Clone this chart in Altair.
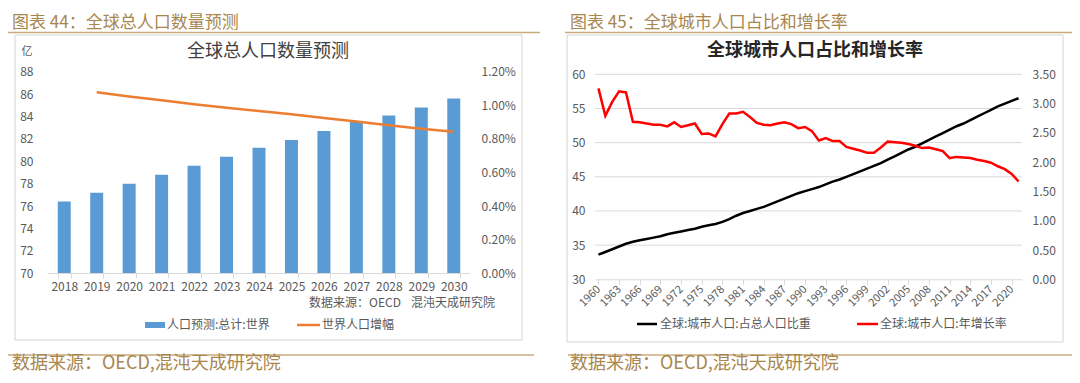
import altair as alt
import pandas as pd

FONT = "Noto Sans CJK SC"
GOLD = "#a8864e"
GOLD_LINE = "#c9ab7c"
GRAY = "#595959"
LIGHT = "#d9d9d9"

# ---------------- data ----------------
pop_years = [str(y) for y in range(2018, 2031)]
pop_values = [76.4, 77.2, 78.0, 78.8, 79.6, 80.4, 81.2, 81.9, 82.7, 83.5, 84.1, 84.8, 85.6]

growth_years = [str(y) for y in range(2019, 2031)]
growth_values = [0.01077, 0.01053, 0.0103, 0.01006, 0.00986, 0.00966, 0.00947,
                 0.00925, 0.00904, 0.00881, 0.00861, 0.00843]

urban_years = list(range(1960, 2022))
urban_share = [33.6, 34.0, 34.4, 34.8, 35.2, 35.5, 35.7, 35.9, 36.1, 36.3,
               36.6, 36.8, 37.0, 37.2, 37.4, 37.7, 37.9, 38.1, 38.4, 38.8,
               39.3, 39.7, 40.0, 40.3, 40.6, 41.0, 41.4, 41.8, 42.2, 42.6,
               42.9, 43.2, 43.5, 43.9, 44.3, 44.6, 45.0, 45.4, 45.8, 46.2,
               46.6, 47.0, 47.5, 48.0, 48.5, 49.0, 49.4, 49.9, 50.4, 50.9,
               51.4, 51.9, 52.4, 52.8, 53.3, 53.8, 54.3, 54.8, 55.3, 55.7,
               56.1, 56.5]
urban_growth = [3.26, 2.79, 3.03, 3.21, 3.19, 2.69, 2.68, 2.66, 2.64, 2.64,
                2.61, 2.68, 2.60, 2.63, 2.66, 2.48, 2.49, 2.44, 2.65, 2.83,
                2.83, 2.86, 2.77, 2.67, 2.64, 2.63, 2.66, 2.68, 2.65, 2.58,
                2.60, 2.53, 2.37, 2.41, 2.36, 2.36, 2.26, 2.23, 2.20, 2.16,
                2.16, 2.25, 2.35, 2.34, 2.33, 2.31, 2.28, 2.24, 2.25, 2.22,
                2.19, 2.07, 2.09, 2.08, 2.07, 2.04, 2.02, 1.99, 1.93, 1.88,
                1.80, 1.67]

pop_ticks = list(range(70, 89, 2))
pct_ticks = [i * 0.002 for i in range(7)]
year_ticks = list(range(1960, 2021, 3))
share_ticks = list(range(30, 61, 5))
growth_ticks = [i * 0.5 for i in range(8)]

pop_df = pd.DataFrame({"year": pop_years, "pop": pop_values})
growth_df = pd.DataFrame({"year": growth_years, "g": growth_values})
urban_df = pd.DataFrame({"year": urban_years, "share": urban_share, "growth": urban_growth})
grid_df = pd.DataFrame({"v": share_ticks[1:]})
one = pd.DataFrame({"k": [0]})


# ---------------- helpers for decoration ----------------
def box(x, y, x2, y2):
    return alt.Chart(one).mark_rect(filled=False, stroke="#d4d4d4", strokeWidth=1).encode(
        x=alt.value(x), x2=alt.value(x2), y=alt.value(y), y2=alt.value(y2))


def hline(x, x2, y, color, w):
    return alt.Chart(one).mark_rule(color=color, strokeWidth=w).encode(
        x=alt.value(x), x2=alt.value(x2), y=alt.value(y))


def txt(s, x, y, size, color, align="left", weight="normal"):
    return alt.Chart(one).mark_text(text=s, font=FONT, fontSize=size, color=color,
                                    align=align, baseline="middle", fontWeight=weight).encode(
        x=alt.value(x), y=alt.value(y))


def swatch(x, y, x2, y2, color):
    return alt.Chart(one).mark_rect(color=color).encode(
        x=alt.value(x), x2=alt.value(x2), y=alt.value(y), y2=alt.value(y2))


# ---------------- left panel ----------------
xs1 = alt.Scale(type="band", domain=pop_years, range=[40, 462], paddingInner=0.6, paddingOuter=0.3)
ys1 = alt.Scale(domain=[70, 88], range=[265.3, 63.7], nice=False, zero=False)
ys1r = alt.Scale(domain=[0, 0.012], range=[265.3, 63.7], nice=False)

bars = alt.Chart(pop_df).mark_bar(color="#5B9BD5").encode(
    x=alt.X("year:O", scale=xs1, axis=alt.Axis(
        orient="bottom", offset=-102, title=None, labelAngle=0, labelFont=FONT,
        labelFontSize=12, labelColor=GRAY, domainColor=LIGHT, tickColor=LIGHT,
        tickSize=5, tickBand="extent", labelPadding=3, grid=False, zindex=1)),
    y=alt.Y("pop:Q", scale=ys1, axis=alt.Axis(
        orient="left", offset=-40, values=pop_ticks, title=None, domain=False,
        ticks=False, grid=False, labelPadding=15, labelFont=FONT, labelFontSize=12,
        labelColor=GRAY, labelFlush=False, zindex=1)),
    y2=alt.datum(70),
)

line1 = alt.Chart(growth_df).mark_line(color="#ED7D31", strokeWidth=2.5).encode(
    x=alt.X("year:O", scale=xs1, axis=None),
    y=alt.Y("g:Q", scale=ys1r, axis=alt.Axis(
        orient="right", offset=-602, values=pct_ticks, format=".2%", title=None,
        domain=False, ticks=False, grid=False, labelPadding=11, labelFont=FONT,
        labelFontSize=12, labelColor=GRAY, labelFlush=False, zindex=1)),
)

# ---------------- right panel ----------------
xs2 = alt.Scale(domain=[1959.5, 2021.5], range=[587, 1014], nice=False, zero=False)
ys2 = alt.Scale(domain=[30, 60], range=[271.3, 66.3], nice=False, zero=False)
ys2r = alt.Scale(domain=[0, 3.5], range=[271.3, 66.3], nice=False)

grid = alt.Chart(grid_df).mark_rule(color=LIGHT, strokeWidth=1).encode(
    y=alt.Y("v:Q", scale=ys2, axis=None), x=alt.value(587), x2=alt.value(1014))

black = alt.Chart(urban_df).mark_line(color="black", strokeWidth=2.5).encode(
    x=alt.X("year:Q", scale=xs2, axis=alt.Axis(
        orient="bottom", offset=-95.7, values=year_ticks, format="d", title=None,
        labelAngle=315, labelAlign="right", labelBaseline="middle", labelFont=FONT,
        labelFontSize=11, labelColor=GRAY, domainColor=LIGHT, tickColor=LIGHT,
        tickSize=5, labelPadding=3, grid=False, labelOverlap=False, labelFlush=False,
        zindex=1)),
    y=alt.Y("share:Q", scale=ys2, axis=alt.Axis(
        orient="left", offset=-587, values=share_ticks, title=None, domain=False,
        ticks=False, grid=False, labelPadding=10, labelFont=FONT, labelFontSize=12,
        labelColor=GRAY, labelFlush=False, zindex=1)),
)

red = alt.Chart(urban_df).mark_line(color="#FF0000", strokeWidth=2.5).encode(
    x=alt.X("year:Q", scale=xs2, axis=None),
    y=alt.Y("growth:Q", scale=ys2r, axis=alt.Axis(
        orient="right", offset=-50, values=growth_ticks, format=".2f", title=None,
        domain=False, ticks=False, grid=False, labelPadding=10, labelFont=FONT,
        labelFontSize=12, labelColor=GRAY, labelFlush=False, zindex=1)),
)

layers = [
    # frames
    box(7, 27, 514, 332),
    box(559, 27, 1055, 334),
    # header / footer rules
    hline(0, 532, 24.5, GOLD_LINE, 1.5),
    hline(557, 1064, 24.5, GOLD_LINE, 1.5),
    hline(0, 526, 347, GOLD_LINE, 1.5),
    hline(560, 1064, 347, GOLD_LINE, 1.5),
    # header / footer texts
    txt("图表 44：全球总人口数量预测", 4, 14.5, 17, GOLD),
    txt("图表 45：全球城市人口占比和增长率", 562, 14.5, 17, GOLD),
    txt("数据来源：OECD,混沌天成研究院", 4, 356, 18, GOLD),
    txt("数据来源：OECD,混沌天成研究院", 562, 356, 18, GOLD),
    # chart titles
    txt("全球总人口数量预测", 260, 44, 18, "#404040", align="center"),
    txt("全球城市人口占比和增长率", 807, 43, 18, "#262626", align="center", weight="bold"),
    # left panel texts
    txt("亿", 19, 44, 11, GRAY, align="center"),
    txt("数据来源：OECD", 301, 295, 12, GRAY),
    txt("混沌天成研究院", 487, 295, 12, GRAY, align="right"),
    # data
    grid, bars, line1, black, red,
    # legends
    swatch(137, 314, 157, 320, "#5B9BD5"),
    txt("人口预测:总计:世界", 159, 317, 12, GRAY),
    hline(289, 312, 317, "#ED7D31", 2.5),
    txt("世界人口增幅", 314, 317, 12, GRAY),
    hline(629, 649, 316, "black", 2.5),
    txt("全球:城市人口:占总人口比重", 652, 316, 12, GRAY),
    hline(849, 870, 316, "#FF0000", 2.5),
    txt("全球:城市人口:年增长率", 872, 316, 12, GRAY),
]

chart = alt.layer(*layers).resolve_scale(x="independent", y="independent").properties(
    width=1064, height=367, autosize=alt.AutoSizeParams(type="none"), padding=0,
    background="white",
).configure_view(stroke=None)

chart.save("out.html", embed_options={"renderer": "svg", "actions": False})
